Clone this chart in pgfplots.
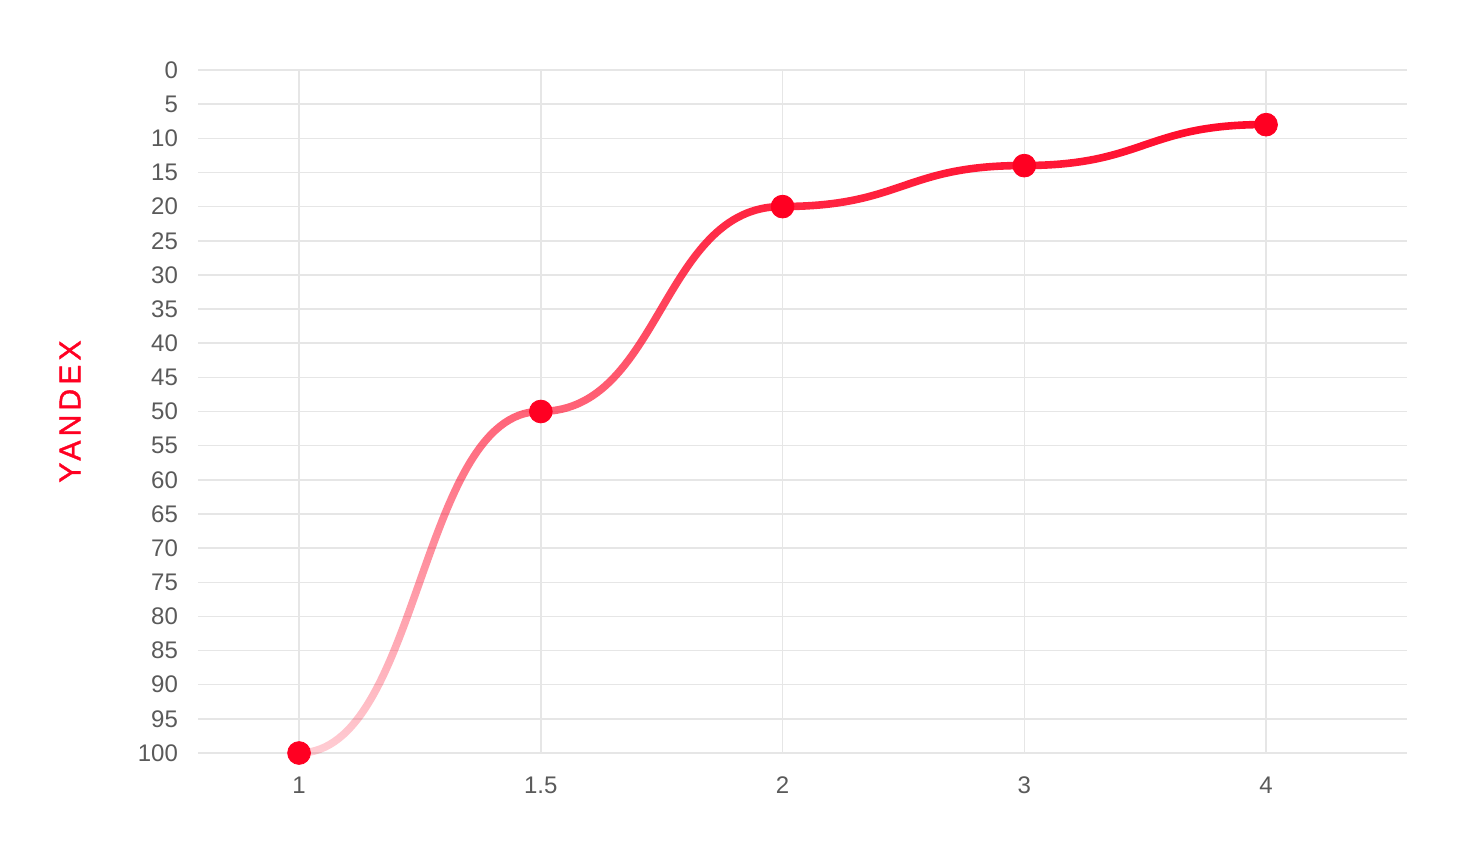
\documentclass[border=0pt]{standalone}
\usepackage{pgfplots}
\pgfplotsset{compat=1.18}
\usepackage{fontspec}
\setmainfont{Liberation Sans}
\usetikzlibrary{fadings}
\definecolor{yred}{HTML}{FF0A2A}
\definecolor{mred}{HTML}{FF0022}
\definecolor{tickgray}{HTML}{5A5A5A}
\definecolor{gridgray}{HTML}{E6E6E6}
\tikzfading[name=yfade, top color=transparent!0, middle color=transparent!40, bottom color=transparent!80]

\makeatletter
\newif\ifbump@first
\newdimen\bump@px \newdimen\bump@py
\newdimen\bump@cx \newdimen\bump@cy \newdimen\bump@mx
\def\bump@point#1{%
  \pgf@process{#1}%
  \bump@cx=\pgf@x \bump@cy=\pgf@y
  \ifbump@first
    \pgfpathmoveto{\pgfqpoint{\bump@cx}{\bump@cy}}%
    \global\bump@firstfalse
  \else
    \bump@mx=\bump@px \advance\bump@mx by \bump@cx \divide\bump@mx by 2
    \pgfpathcurveto{\pgfqpoint{\bump@mx}{\bump@py}}{\pgfqpoint{\bump@mx}{\bump@cy}}{\pgfqpoint{\bump@cx}{\bump@cy}}%
  \fi
  \global\bump@px=\bump@cx \global\bump@py=\bump@cy
}
\pgfdeclareplothandler{\pgfplothandlerbumpx}{}{%
  start={\global\bump@firsttrue},
  point macro=\bump@point,
  jump={\global\bump@firsttrue},
  end={}
}
\tikzset{bumpx/.code={\let\tikz@plot@handler=\pgfplothandlerbumpx}}
\makeatother

\pgfplotstableread{
x y
0 100
1 50
2 20
3 14
4 8
}\yandex

\begin{document}
\begin{tikzpicture}
\useasboundingbox (0,0) rectangle (736.5pt,426pt);
\begin{axis}[
  at={(99pt,49.5pt)}, anchor=south west,
  scale only axis, width=604.5pt, height=341.5pt,
  xmin=-0.418, xmax=4.583, ymin=0, ymax=100, y dir=reverse,
  xtick={0,1,2,3,4}, xticklabels={1,1.5,2,3,4},
  ytick={0,5,...,100},
  axis line style={draw=none}, major tick length=0pt,
  grid=major, major grid style={gridgray, line width=0.75pt},
  tick label style={font=\fontsize{12}{14}\selectfont, text=tickgray},
  /pgf/number format/assume math mode=true,
  xticklabel style={yshift=-8.5pt},
  yticklabel style={xshift=-6.5pt},
  ylabel={YANDEX},
  every axis y label/.style={at={(rel axis cs:0,0.5)}, xshift=-64pt, rotate=90, anchor=center,
    font=\fontsize{15}{18}\selectfont\addfontfeature{LetterSpace=14,FakeBold=1.3}, text=mred},
  clip=false,
]
\addplot[yred, line width=3.8pt, bumpx, path fading=yfade] table {\yandex};
\addplot[only marks, mark=*, mark size=5.7pt, mred, mark options={draw=mred, fill=mred}] table {\yandex};
\end{axis}
\end{tikzpicture}
\end{document}
